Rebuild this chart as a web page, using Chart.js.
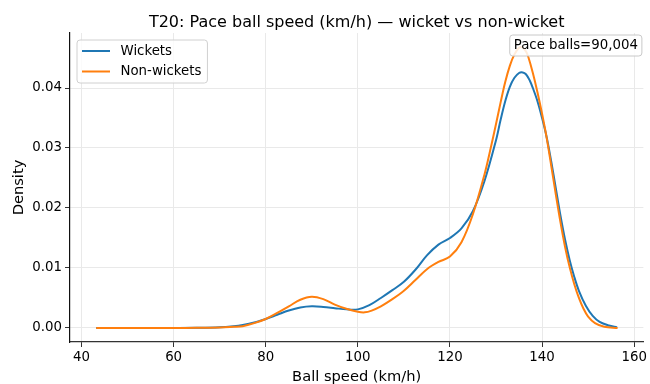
<!DOCTYPE html>
<html><head><meta charset="utf-8">
<script src="https://cdn.jsdelivr.net/npm/chart.js@4.4.1/dist/chart.umd.min.js"></script>
<style>html,body{margin:0;padding:0;background:#fff}canvas{display:block}</style>
</head><body>
<canvas id="c" width="650" height="384"></canvas>
<script>
const wicketSpeed   = [43.2, 50, 60, 65, 70, 73, 75, 77.5, 80, 82.5, 85, 87.5, 90, 92.5, 95, 97.5, 100, 102.5, 105, 107.5, 110, 112.5, 115, 117.5, 120, 122.5, 125, 127.5, 130, 131, 132, 133, 134, 135, 135.8, 136.5, 137.3, 138, 139, 140, 141, 142, 143, 144, 145, 146, 147, 148, 149.5, 151, 152.5, 154.5, 156.3];
const wicketDensity = [0, 0, 0.00001, 0.00003, 0.00012, 0.0003, 0.0005, 0.0009, 0.0015, 0.0022, 0.0029, 0.0034, 0.0036, 0.0035, 0.0033, 0.0031, 0.0031, 0.0038, 0.0050, 0.0063, 0.0077, 0.0097, 0.0121, 0.0139, 0.0150, 0.0166, 0.0195, 0.0245, 0.0313, 0.0347, 0.0378, 0.0402, 0.0417, 0.0425, 0.0426, 0.0423, 0.0413, 0.0400, 0.0378, 0.0350, 0.0318, 0.0277, 0.0232, 0.0187, 0.0147, 0.0113, 0.0085, 0.0062, 0.0037, 0.0020, 0.0010, 0.0004, 0.0001];
const nonWicketSpeed   = [43.2, 50, 60, 65, 70, 73, 75, 77.5, 80, 82.5, 85, 87.5, 90, 92.5, 95, 97.5, 100, 101.5, 103, 105, 107.5, 110, 112.5, 115, 117.5, 120, 122.5, 125, 127.5, 129, 130, 131, 132, 133, 134, 135, 135.6, 136.5, 137, 138, 139, 140, 141, 142, 143, 144, 145, 146, 147, 148, 149, 150, 151.5, 153.5, 156.4];
const nonWicketDensity = [0, 0, 0.00001, 0.00002, 0.00008, 0.0002, 0.0003, 0.0008, 0.0015, 0.0025, 0.0036, 0.0047, 0.0052, 0.0048, 0.0039, 0.0032, 0.0027, 0.0026, 0.0029, 0.0036, 0.0048, 0.0062, 0.0080, 0.0098, 0.0110, 0.0119, 0.0143, 0.0190, 0.0256, 0.0305, 0.0340, 0.0376, 0.0410, 0.0437, 0.0456, 0.0467, 0.0468, 0.0461, 0.0452, 0.0425, 0.0393, 0.0357, 0.0317, 0.0270, 0.0222, 0.0176, 0.0135, 0.0101, 0.0073, 0.0050, 0.0032, 0.0019, 0.0008, 0.0002, 0];
const xTicks = [40, 60, 80, 100, 120, 140, 160];
const yTicks = [0, 0.01, 0.02, 0.03, 0.04];
const seriesLabels = ['Wickets', 'Non-wickets'];
const seriesColors = ['#1f77b4', '#ff7f0e'];
const titleText = 'T20: Pace ball speed (km/h) — wicket vs non-wicket';
const xAxisTitle = 'Ball speed (km/h)';
const yAxisTitle = 'Density';
const annotationText = 'Pace balls=90,004';

const FONT = '"DejaVu Sans", "Liberation Sans", sans-serif';
Chart.defaults.font.family = FONT;
Chart.defaults.font.size = 13.33;
Chart.defaults.color = '#000';

function roundRect(ctx, x, y, w, h, r) {
  ctx.beginPath();
  ctx.moveTo(x + r, y);
  ctx.lineTo(x + w - r, y);
  ctx.arcTo(x + w, y, x + w, y + r, r);
  ctx.lineTo(x + w, y + h - r);
  ctx.arcTo(x + w, y + h, x + w - r, y + h, r);
  ctx.lineTo(x + r, y + h);
  ctx.arcTo(x, y + h, x, y + h - r, r);
  ctx.lineTo(x, y + r);
  ctx.arcTo(x, y, x + r, y, r);
  ctx.closePath();
}

const overlayPlugin = {
  id: 'overlay',
  afterDraw(chart) {
    const ctx = chart.ctx, ca = chart.chartArea;
    ctx.save();
    ctx.font = '13.33px ' + FONT;
    // legend
    const ds = chart.data.datasets;
    let maxW = 0;
    ds.forEach(d => { maxW = Math.max(maxW, ctx.measureText(d.label).width); });
    const bx = ca.left + 7, by = ca.top + 7;
    const bw = 43.5 + maxW + 6, bh = 43;
    roundRect(ctx, bx, by, bw, bh, 3);
    ctx.fillStyle = 'rgba(255,255,255,0.8)';
    ctx.fill();
    ctx.strokeStyle = '#d0d0d0';
    ctx.lineWidth = 1;
    ctx.stroke();
    ds.forEach((d, i) => {
      const y = by + 11 + i * 20.5;
      ctx.beginPath();
      ctx.moveTo(bx + 5, y);
      ctx.lineTo(bx + 33, y);
      ctx.strokeStyle = d.borderColor;
      ctx.lineWidth = 2;
      ctx.stroke();
      ctx.fillStyle = '#000';
      ctx.textBaseline = 'middle';
      ctx.textAlign = 'left';
      ctx.fillText(d.label, bx + 43.5, y + 0.5);
    });
    // annotation
    const tw = ctx.measureText(annotationText).width;
    const ax2 = ca.right - 1.5, ay = ca.top + 2, ah = 21;
    const ax = ax2 - tw - 8;
    roundRect(ctx, ax, ay, ax2 - ax, ah, 3);
    ctx.fillStyle = 'rgba(255,255,255,0.85)';
    ctx.fill();
    ctx.strokeStyle = '#c8c8c8';
    ctx.lineWidth = 1;
    ctx.stroke();
    ctx.fillStyle = '#000';
    ctx.textAlign = 'right';
    ctx.textBaseline = 'middle';
    ctx.fillText(annotationText, ax2 - 4, ay + ah / 2 + 0.5);
    ctx.restore();
  }
};

const gridColor = '#e9e9e9';

new Chart(document.getElementById('c'), {
  type: 'line',
  data: {
    datasets: [
      {
        label: seriesLabels[0],
        data: wicketSpeed.map((x, i) => ({ x, y: wicketDensity[i] })),
        borderColor: seriesColors[0],
        borderWidth: 2,
        pointRadius: 0,
        tension: 0.35,
        fill: false,
        order: 1
      },
      {
        label: seriesLabels[1],
        data: nonWicketSpeed.map((x, i) => ({ x, y: nonWicketDensity[i] })),
        borderColor: seriesColors[1],
        borderWidth: 2,
        pointRadius: 0,
        tension: 0.35,
        fill: false,
        order: 0
      }
    ]
  },
  options: {
    responsive: false,
    animation: false,
    devicePixelRatio: 1,
    layout: { padding: { left: 0, right: 3, top: 0, bottom: 0 } },
    plugins: {
      legend: { display: false },
      tooltip: { enabled: false },
      title: {
        display: true,
        text: titleText,
        fullSize: false,
        color: '#000',
        font: { size: 16, weight: 'normal', family: FONT },
        padding: { top: 13, bottom: 0.8 }
      }
    },
    scales: {
      x: {
        type: 'linear',
        min: 37.5,
        max: 162,
        afterBuildTicks: s => { s.ticks = xTicks.map(v => ({ value: v })); },
        afterFit: s => { s.height = 42; },
        ticks: { padding: 3, color: '#000', font: { size: 13.33 }, callback: v => String(v), maxRotation: 0 },
        grid: { color: gridColor, lineWidth: 1, tickColor: '#333', tickLength: 5, tickWidth: 1 },
        border: { display: true, color: '#333', width: 1.2 },
        title: { display: true, text: xAxisTitle, color: '#000', font: { size: 14.67 }, padding: { top: 0, bottom: -1.5 } }
      },
      y: {
        type: 'linear',
        min: -0.00234,
        max: 0.04917,
        afterBuildTicks: s => { s.ticks = yTicks.map(v => ({ value: v })); },
        afterFit: s => { s.width = 70; },
        ticks: { padding: 3, color: '#000', font: { size: 13.33 }, callback: v => v.toFixed(2) },
        grid: { color: gridColor, lineWidth: 1, tickColor: '#333', tickLength: 5, tickWidth: 1 },
        border: { display: true, color: '#111', width: 1.2 },
        title: { display: true, text: yAxisTitle, color: '#000', font: { size: 14.67 }, padding: { top: 10, bottom: 0 } }
      }
    }
  },
  plugins: [overlayPlugin]
});
</script>
</body></html>
